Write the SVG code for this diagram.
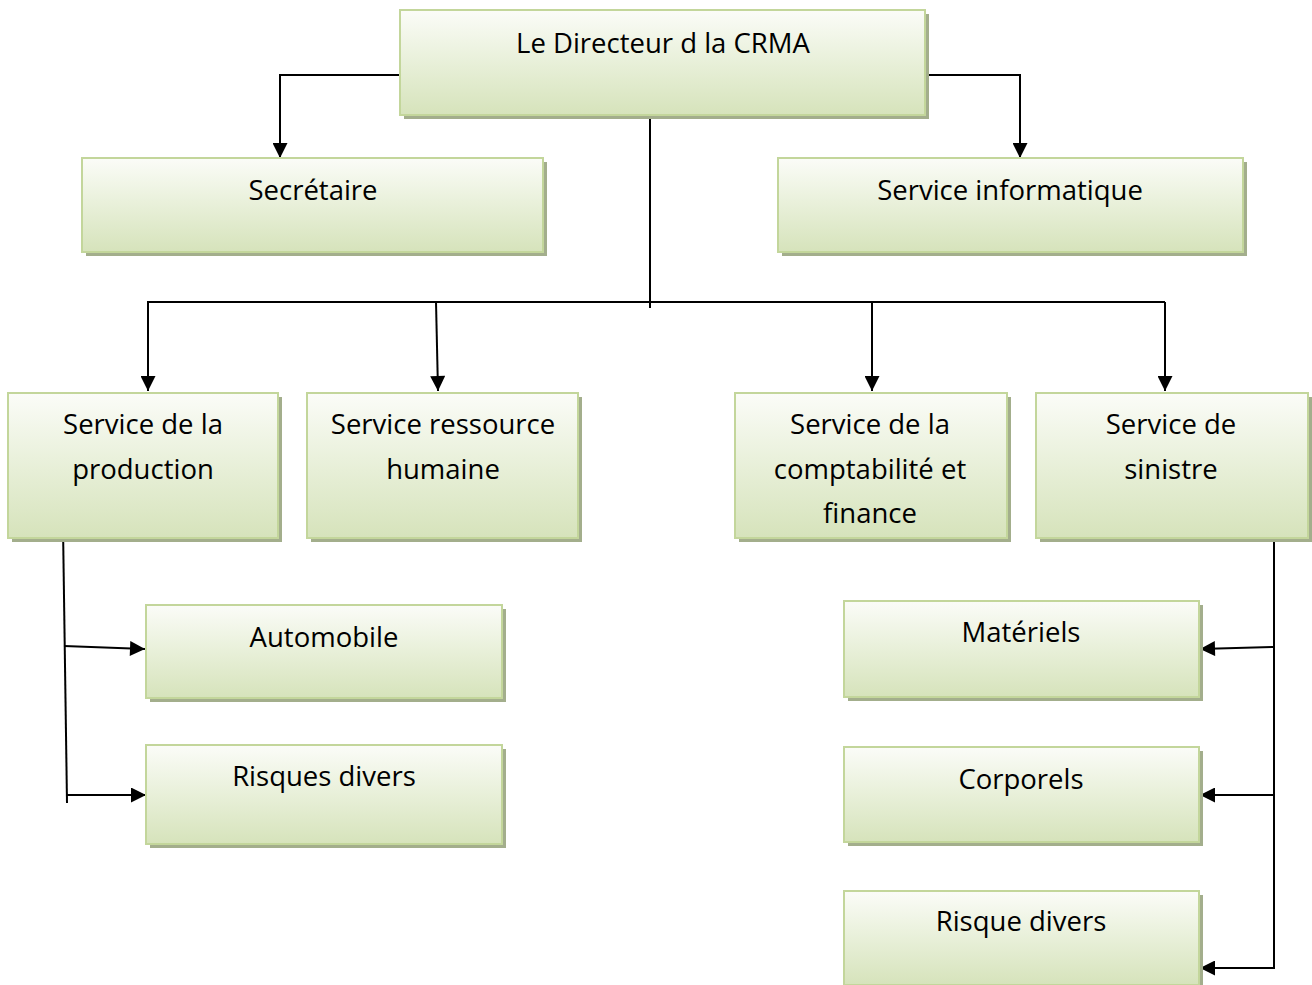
<svg xmlns="http://www.w3.org/2000/svg" width="1312" height="985" viewBox="0 0 1312 985">
<defs>
<linearGradient id="g" x1="0" y1="0" x2="0" y2="1">
<stop offset="0" stop-color="#fbfcf8"/>
<stop offset="0.45" stop-color="#eaf1dc"/>
<stop offset="1" stop-color="#d6e3bb"/>
</linearGradient>
<marker id="ah" viewBox="0 0 10 10" refX="10" refY="5" markerWidth="16" markerHeight="15" markerUnits="userSpaceOnUse" orient="auto">
<path d="M0,0 L10,5 L0,10 Z" fill="#000"/>
</marker>
<style>
.sh{fill:#a3ae8c}
.bx{fill:url(#g);stroke:#c3d69b;stroke-width:2}
.t{font-family:"Open Sans","Liberation Sans",Arial,sans-serif;font-size:27.5px;fill:#000;text-anchor:middle}
.c{fill:none;stroke:#000;stroke-width:2}
.a{fill:none;stroke:#000;stroke-width:2;marker-end:url(#ah)}
</style>
</defs>
<rect width="1312" height="985" fill="#fff"/>
<g id="connectors">
<polyline class="a" points="400,75 280,75 280,158"/>
<polyline class="a" points="925,75 1020,75 1020,158"/>
<line class="c" x1="650" y1="115" x2="650" y2="308"/>
<line class="c" x1="147" y1="302" x2="1165" y2="302"/>
<line class="a" x1="148" y1="302" x2="148" y2="391"/>
<line class="a" x1="436" y1="302" x2="438" y2="391"/>
<line class="a" x1="872" y1="302" x2="872" y2="391"/>
<line class="a" x1="1165" y1="302" x2="1165" y2="391"/>
<line class="c" x1="63" y1="527" x2="67" y2="803"/>
<line class="a" x1="64" y1="646" x2="145" y2="649"/>
<line class="a" x1="67" y1="795" x2="146" y2="795"/>
<line class="c" x1="1274" y1="536" x2="1274" y2="969"/>
<line class="a" x1="1274" y1="647" x2="1200" y2="649"/>
<line class="a" x1="1274" y1="795" x2="1200" y2="795"/>
<line class="a" x1="1274" y1="968" x2="1200" y2="968"/>
</g>
<g id="directeur"><rect class="sh" x="404" y="14" width="525" height="105"/><rect class="bx" x="400" y="10" width="525" height="105"/><text class="t" x="663" y="53">Le Directeur d la CRMA</text></g>
<g id="secretaire"><rect class="sh" x="86" y="162" width="461" height="94"/><rect class="bx" x="82" y="158" width="461" height="94"/><text class="t" x="313" y="200">Secrétaire</text></g>
<g id="informatique"><rect class="sh" x="782" y="162" width="465" height="94"/><rect class="bx" x="778" y="158" width="465" height="94"/><text class="t" x="1010" y="200">Service informatique</text></g>
<g id="production"><rect class="sh" x="12" y="397" width="270" height="145"/><rect class="bx" x="8" y="393" width="270" height="145"/><text class="t" x="143" y="434">Service de la</text><text class="t" x="143" y="479">production</text></g>
<g id="rh"><rect class="sh" x="311" y="397" width="271" height="145"/><rect class="bx" x="307" y="393" width="271" height="145"/><text class="t" x="443" y="434">Service ressource</text><text class="t" x="443" y="479">humaine</text></g>
<g id="comptabilite"><rect class="sh" x="739" y="397" width="272" height="145"/><rect class="bx" x="735" y="393" width="272" height="145"/><text class="t" x="870" y="434">Service de la</text><text class="t" x="870" y="479">comptabilité et</text><text class="t" x="870" y="523">finance</text></g>
<g id="sinistre"><rect class="sh" x="1040" y="397" width="272" height="145"/><rect class="bx" x="1036" y="393" width="272" height="145"/><text class="t" x="1171" y="434">Service de</text><text class="t" x="1171" y="479">sinistre</text></g>
<g id="automobile"><rect class="sh" x="150" y="609" width="356" height="93"/><rect class="bx" x="146" y="605" width="356" height="93"/><text class="t" x="324" y="647">Automobile</text></g>
<g id="risques-divers"><rect class="sh" x="150" y="749" width="356" height="99"/><rect class="bx" x="146" y="745" width="356" height="99"/><text class="t" x="324" y="786">Risques divers</text></g>
<g id="materiels"><rect class="sh" x="848" y="605" width="355" height="96"/><rect class="bx" x="844" y="601" width="355" height="96"/><text class="t" x="1021" y="642">Matériels</text></g>
<g id="corporels"><rect class="sh" x="848" y="751" width="355" height="95"/><rect class="bx" x="844" y="747" width="355" height="95"/><text class="t" x="1021" y="789">Corporels</text></g>
<g id="risque-divers"><rect class="sh" x="848" y="895" width="355" height="94"/><rect class="bx" x="844" y="891" width="355" height="94"/><text class="t" x="1021" y="931">Risque divers</text></g>
</svg>
